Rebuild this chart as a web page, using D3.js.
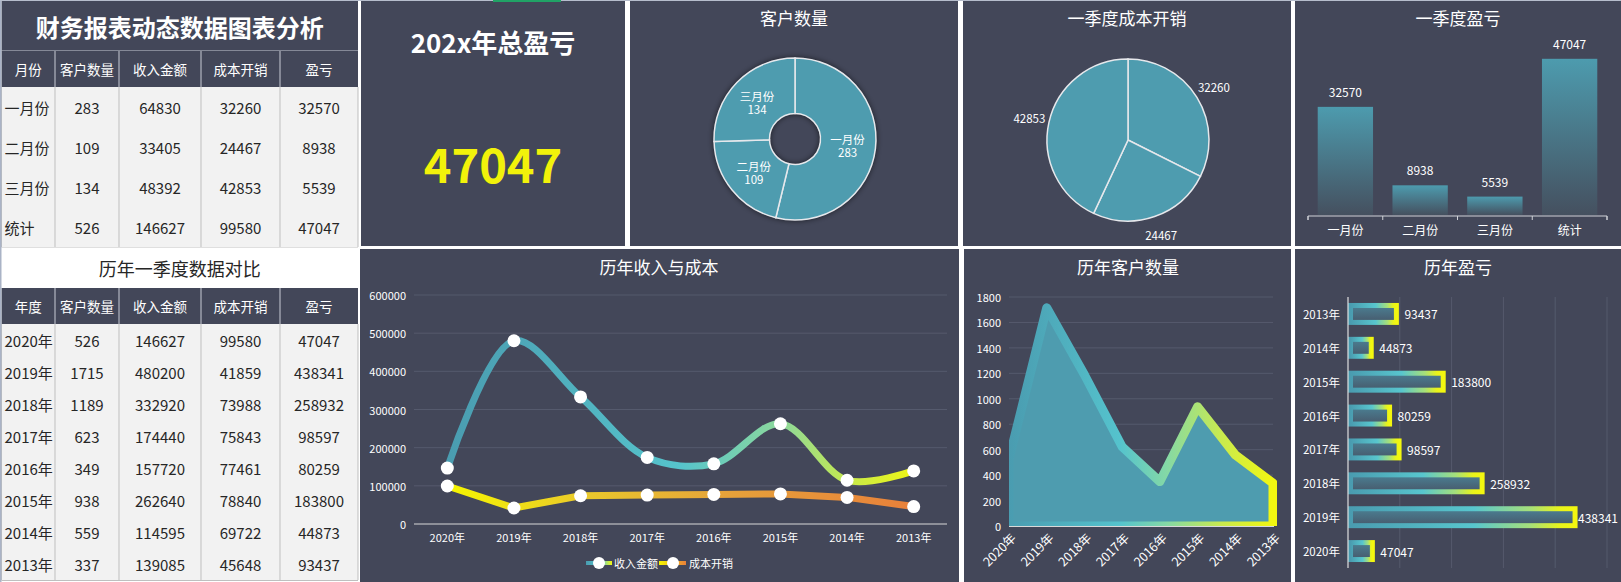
<!DOCTYPE html>
<html><head><meta charset="utf-8">
<script src="https://cdn.jsdelivr.net/npm/d3@7/dist/d3.min.js"></script>
<style>
html,body{margin:0;padding:0;background:#fff;}
svg{display:block;font-family:"Noto Sans CJK SC","Noto Sans",sans-serif;}
</style></head><body>
<svg id="c" width="1621" height="582"></svg>
<script>
// ---------- data ----------
const months = ['一月份','二月份','三月份'];
const totalLabel = '统计';
const monthCustomers = [283,109,134];
const monthRevenue = [64830,33405,48392];
const monthCost = [32260,24467,42853];
const monthProfit = [32570,8938,5539];

const years = ['2020年','2019年','2018年','2017年','2016年','2015年','2014年','2013年'];
const yearCustomers = [526,1715,1189,623,349,938,559,337];
const yearRevenue = [146627,480200,332920,174440,157720,262640,114595,139085];
const yearCost = [99580,41859,73988,75843,77461,78840,69722,45648];
const yearProfit = [47047,438341,258932,98597,80259,183800,44873,93437];

const headersMonth = ['月份','客户数量','收入金额','成本开销','盈亏'];
const headersYear = ['年度','客户数量','收入金额','成本开销','盈亏'];
const lineTicks = [0,100000,200000,300000,400000,500000,600000];
const areaTicks = [0,200,400,600,800,1000,1200,1400,1600,1800];
const profitTicks = [0,100000,200000,300000,400000,500000];

const mainTitle = '财务报表动态数据图表分析';
const compareTitle = '历年一季度数据对比';
const kpiTitle = '202x年总盈亏';

// ---------- setup ----------
const DARK = '#434759';
const svg = d3.select('#c');
const defs = svg.append('defs');
svg.append('rect').attr('width',1621).attr('height',582).attr('fill','#ffffff');

function linGrad(id, stops, x1, x2, y1, y2, units){
  const g = defs.append('linearGradient').attr('id', id)
    .attr('x1', x1).attr('x2', x2).attr('y1', y1).attr('y2', y2);
  if (units) g.attr('gradientUnits', units);
  stops.forEach(s => g.append('stop').attr('offset', s[0]).attr('stop-color', s[1]));
}
const tealYellow = [[0,'#4a9cb0'],[0.5,'#56c4cc'],[0.72,'#8ed99a'],[0.86,'#c6e94c'],[1,'#f0f614']];

// ---------- tables ----------
const colX = [1.5, 55, 119, 201, 280, 358];
const tot = [totalLabel, d3.sum(monthCustomers), d3.sum(monthRevenue), d3.sum(monthCost), d3.sum(monthProfit)];
const monthRows = months.map((m,i)=>[m, monthCustomers[i], monthRevenue[i], monthCost[i], monthProfit[i]]).concat([tot]);
const yearRows = years.map((y,i)=>[y, yearCustomers[i], yearRevenue[i], yearCost[i], yearProfit[i]]);

const tbl = svg.append('g');
function drawTable(top, headerH, rowH, headers, rows){
  tbl.append('rect').attr('x',colX[0]).attr('y',top).attr('width',colX[5]-colX[0]).attr('height',headerH).attr('fill',DARK);
  headers.forEach((h,j)=>{
    tbl.append('text').attr('x',(colX[j]+colX[j+1])/2).attr('y',top+headerH/2)
      .attr('text-anchor','middle').attr('dominant-baseline','central')
      .attr('fill','#ffffff').attr('font-size',13.5).text(h);
    if (j>0) tbl.append('line').attr('x1',colX[j]).attr('x2',colX[j]).attr('y1',top).attr('y2',top+headerH).attr('stroke','#c9ccd6').attr('stroke-width',1);
  });
  rows.forEach((r,i)=>{
    const y0 = top + headerH + i*rowH;
    tbl.append('rect').attr('x',colX[0]).attr('y',y0).attr('width',colX[5]-colX[0]).attr('height',rowH).attr('fill','#f2f2f2');
    r.forEach((v,j)=>{
      tbl.append('text')
        .attr('x', j===0 ? colX[0]+3 : (colX[j]+colX[j+1])/2)
        .attr('y', y0+rowH/2)
        .attr('text-anchor', j===0 ? 'start' : 'middle')
        .attr('dominant-baseline','central')
        .attr('fill','#262626').attr('font-size',15).text(v);
    });
    tbl.append('line').attr('x1',colX[0]).attr('x2',colX[5]).attr('y1',y0+rowH+0.5).attr('y2',y0+rowH+0.5).attr('stroke','#bfbfbf');
    colX.forEach(cx=>{
      tbl.append('line').attr('x1',cx).attr('x2',cx).attr('y1',y0).attr('y2',y0+rowH).attr('stroke','#bfbfbf');
    });
  });
}
tbl.append('rect').attr('x',colX[0]).attr('y',0).attr('width',colX[5]-colX[0]).attr('height',51).attr('fill',DARK);
tbl.append('text').attr('x',(colX[0]+colX[5])/2).attr('y',26).attr('text-anchor','middle').attr('dominant-baseline','central')
  .attr('fill','#ffffff').attr('font-size',24).attr('font-weight','bold').text(mainTitle);
tbl.append('line').attr('x1',colX[0]).attr('x2',colX[5]).attr('y1',51).attr('y2',51).attr('stroke','#c9ccd6');
drawTable(51, 36, 40, headersMonth, monthRows);
tbl.append('rect').attr('x',colX[0]).attr('y',247.5).attr('width',colX[5]-colX[0]).attr('height',40.5).attr('fill','#ffffff');
tbl.append('text').attr('x',(colX[0]+colX[5])/2).attr('y',268).attr('text-anchor','middle').attr('dominant-baseline','central')
  .attr('fill','#262626').attr('font-size',18).text(compareTitle);
drawTable(288, 36, 32, headersYear, yearRows);
tbl.append('line').attr('x1',0.75).attr('x2',0.75).attr('y1',0).attr('y2',582).attr('stroke','#aab3c6').attr('stroke-width',1.5);

// ---------- panels ----------
const panels = [
  [361,0,264,246],[630,0,328,246],[963,0,328,246],[1295,0,326,246],
  [360,249,599,333],[964,249,327,333],[1295,249,326,333]
];
svg.selectAll('rect.panel').data(panels).enter().append('rect').attr('class','panel')
  .attr('x',d=>d[0]).attr('y',d=>d[1]).attr('width',d=>d[2]).attr('height',d=>d[3]).attr('fill',DARK);
svg.append('line').attr('x1',0).attr('x2',1621).attr('y1',0.5).attr('y2',0.5).attr('stroke','#b6bdcc');
svg.append('line').attr('x1',493).attr('x2',561).attr('y1',1).attr('y2',1).attr('stroke','#21a366').attr('stroke-width',2);

function title(x,y,t){
  svg.append('text').attr('x',x).attr('y',y).attr('text-anchor','middle').attr('fill','#ffffff')
    .attr('font-size',17).text(t);
}

// ---------- KPI ----------
svg.append('text').attr('x',493).attr('y',53).attr('text-anchor','middle').attr('fill','#ffffff')
  .attr('font-size',26).attr('font-weight','bold').text(kpiTitle);
svg.append('text').attr('x',493).attr('y',183).attr('text-anchor','middle').attr('fill','#f2f20a')
  .attr('font-size',47).attr('font-weight','bold').text(d3.sum(monthProfit));

// ---------- donut 客户数量 ----------
title(794,25,'客户数量');
const shadow = defs.append('filter').attr('id','sh').attr('x','-30%').attr('y','-30%').attr('width','160%').attr('height','160%');
shadow.append('feDropShadow').attr('dx',0).attr('dy',0).attr('stdDeviation',3).attr('flood-color','#000').attr('flood-opacity',0.7);
const pie = d3.pie().sort(null).value(d=>d);
const dg = svg.append('g').attr('transform','translate(795,139)');
const donutArc = d3.arc().innerRadius(25.5).outerRadius(81);
const donutLab = d3.arc().innerRadius(53).outerRadius(53);
const dArcs = pie(monthCustomers);
dg.append('g').attr('filter','url(#sh)').selectAll('path').data(dArcs).enter().append('path')
  .attr('d',donutArc).attr('fill','#4e9caf');
dg.selectAll('path.s').data(dArcs).enter().append('path').attr('class','s')
  .attr('d',donutArc).attr('fill','#4e9caf').attr('stroke','#e6e8ec').attr('stroke-width',1.5);
dArcs.forEach((a,i)=>{
  const c = donutLab.centroid(a);
  dg.append('text').attr('x',c[0]).attr('y',c[1]-6.5).attr('text-anchor','middle').attr('dominant-baseline','central')
    .attr('fill','#ffffff').attr('font-size',11.5).text(months[i]);
  dg.append('text').attr('x',c[0]).attr('y',c[1]+7).attr('text-anchor','middle').attr('dominant-baseline','central')
    .attr('fill','#ffffff').attr('font-size',11.5).text(monthCustomers[i]);
});

// ---------- pie 一季度成本开销 ----------
title(1127,25,'一季度成本开销');
const pg = svg.append('g').attr('transform','translate(1128,140)');
const pieArc = d3.arc().innerRadius(0).outerRadius(81);
const pieLab = d3.arc().innerRadius(101).outerRadius(101);
const pArcs = pie(monthCost);
pg.selectAll('path').data(pArcs).enter().append('path')
  .attr('d',pieArc).attr('fill','#4e9caf').attr('stroke','#e6e8ec').attr('stroke-width',1.5);
pArcs.forEach((a,i)=>{
  const c = pieLab.centroid(a);
  pg.append('text').attr('x',c[0]).attr('y',c[1]).attr('text-anchor','middle').attr('dominant-baseline','central')
    .attr('fill','#ffffff').attr('font-size',11.5).text(monthCost[i]);
});

// ---------- bar 一季度盈亏 ----------
title(1458,25,'一季度盈亏');
linGrad('barG', [[0,'#4d9bae'],[1,'#45505f']], 0,0,0,1);
const qCats = months.concat([totalLabel]);
const qVals = monthProfit.concat([d3.sum(monthProfit)]);
const bx = d3.scaleBand().domain(qCats).range([1308,1607]).paddingInner(0.26).paddingOuter(0.13);
const by = d3.scaleLinear().domain([0,50000]).range([215,49]);
const bg = svg.append('g');
bg.selectAll('rect').data(qVals).enter().append('rect')
  .attr('x',(d,i)=>bx(qCats[i])).attr('width',bx.bandwidth())
  .attr('y',d=>by(d)).attr('height',d=>by(0)-by(d)).attr('fill','url(#barG)');
bg.selectAll('text.v').data(qVals).enter().append('text').attr('class','v')
  .attr('x',(d,i)=>bx(qCats[i])+bx.bandwidth()/2).attr('y',d=>by(d)-10)
  .attr('text-anchor','middle').attr('fill','#ffffff').attr('font-size',12).text(d=>d);
const bAxis = d3.axisBottom(bx).tickSize(0).tickPadding(10);
const bAx = bg.append('g').attr('transform','translate(0,216)').call(bAxis);
bAx.select('.domain').attr('stroke','#d0d2d8').attr('d','M1308,4V0H1607V4');
bAx.selectAll('text').attr('fill','#ffffff').attr('font-size',12).attr('font-family','"Noto Sans CJK SC",sans-serif');
d3.range(qCats.length+1).forEach(i=>{
  const xx = 1308 + i*(299/qCats.length);
  bAx.append('line').attr('x1',xx).attr('x2',xx).attr('y1',0).attr('y2',4).attr('stroke','#d0d2d8');
});

// ---------- line 历年收入与成本 ----------
title(659,274,'历年收入与成本');
const lx = d3.scalePoint().domain(years).range([414,947]).padding(0.5);
const ly = d3.scaleLinear().domain([0,600000]).range([524,295]);
const lg = svg.append('g');
lineTicks.forEach(t=>{
  if (t>0) lg.append('line').attr('x1',414).attr('x2',947).attr('y1',ly(t)).attr('y2',ly(t)).attr('stroke','#555a6d').attr('stroke-width',1);
  lg.append('text').attr('x',406).attr('y',ly(t)).attr('text-anchor','end').attr('dominant-baseline','central')
    .attr('fill','#ffffff').attr('font-size',11).text(t);
});
lg.append('line').attr('x1',414).attr('x2',947).attr('y1',ly(0)).attr('y2',ly(0)).attr('stroke','#d9d9d9').attr('stroke-width',1);
years.forEach(y=>{
  lg.append('text').attr('x',lx(y)).attr('y',537).attr('text-anchor','middle').attr('dominant-baseline','central')
    .attr('fill','#ffffff').attr('font-size',11).text(y);
});
linGrad('revG', tealYellow, lx(years[0]), lx(years[7]), 0, 0, 'userSpaceOnUse');
linGrad('costG', [[0,'#f6f600'],[0.3,'#e9c82c'],[0.6,'#e6a23a'],[1,'#e8803a']], lx(years[0]), lx(years[7]), 0, 0, 'userSpaceOnUse');
const lineGen = d3.line().x((d,i)=>lx(years[i])).y(d=>ly(d)).curve(d3.curveCatmullRom.alpha(0.5));
const costGen = d3.line().x((d,i)=>lx(years[i])).y(d=>ly(d));
lg.append('path').attr('d',costGen(yearCost)).attr('fill','none').attr('stroke','url(#costG)').attr('stroke-width',7).attr('stroke-linejoin','round');
lg.append('path').attr('d',lineGen(yearRevenue)).attr('fill','none').attr('stroke','url(#revG)').attr('stroke-width',7).attr('stroke-linecap','round');
[yearRevenue, yearCost].forEach(s=>{
  lg.selectAll(null).data(s).enter().append('circle').attr('cx',(d,i)=>lx(years[i])).attr('cy',d=>ly(d)).attr('r',6.5).attr('fill','#ffffff');
});
linGrad('legR', tealYellow, 0,1,0,0);
linGrad('legC', [[0,'#f6f600'],[1,'#e8803a']], 0,1,0,0);
lg.append('rect').attr('x',586).attr('y',561).attr('width',26).attr('height',4).attr('fill','url(#legR)');
lg.append('circle').attr('cx',599).attr('cy',563).attr('r',6).attr('fill','#fff');
lg.append('text').attr('x',614).attr('y',563).attr('dominant-baseline','central').attr('fill','#fff').attr('font-size',11).text('收入金额');
lg.append('rect').attr('x',659).attr('y',561).attr('width',27).attr('height',4).attr('fill','url(#legC)');
lg.append('circle').attr('cx',673).attr('cy',563).attr('r',6).attr('fill','#fff');
lg.append('text').attr('x',689).attr('y',563).attr('dominant-baseline','central').attr('fill','#fff').attr('font-size',11).text('成本开销');

// ---------- area 历年客户数量 ----------
title(1128,274,'历年客户数量');
const ax = d3.scalePoint().domain(years).range([1009,1273]).padding(0);
const ay = d3.scaleLinear().domain([0,1800]).range([526,297]);
const ag = svg.append('g');
areaTicks.forEach(t=>{
  if (t>0) ag.append('line').attr('x1',1009).attr('x2',1273).attr('y1',ay(t)).attr('y2',ay(t)).attr('stroke','#555a6d');
  ag.append('text').attr('x',1001).attr('y',ay(t)).attr('text-anchor','end').attr('dominant-baseline','central')
    .attr('fill','#ffffff').attr('font-size',11).text(t);
});
linGrad('areaG', [[0,'#4a9cb0'],[0.42,'#55c3cd'],[0.6,'#85d9a5'],[0.8,'#c8ea50'],[1,'#f2f710']], 1009, 1273, 0, 0, 'userSpaceOnUse');
defs.append('clipPath').attr('id','aclip').append('rect').attr('x',1009).attr('y',280).attr('width',268).attr('height',246);
const areaGen = d3.area().x((d,i)=>ax(years[i])).y0(ay(0)).y1(d=>ay(d));
ag.append('path').attr('d',areaGen(yearCustomers)+'Z').attr('clip-path','url(#aclip)')
  .attr('fill','#4e9caf').attr('stroke','url(#areaG)').attr('stroke-width',9).attr('stroke-linejoin','round');
ag.append('line').attr('x1',1009).attr('x2',1274).attr('y1',526.5).attr('y2',526.5).attr('stroke','#d9d9d9');
years.forEach(y=>{
  ag.append('text').attr('transform',`translate(${ax(y)+4},535) rotate(-45)`).attr('text-anchor','end')
    .attr('dominant-baseline','central').attr('fill','#ffffff').attr('font-size',12.5).text(y);
});

// ---------- horizontal bars 历年盈亏 ----------
title(1458,274,'历年盈亏');
const hx = d3.scaleLinear().domain([0,500000]).range([1348,1607]);
const hyOrder = years.slice().reverse();
const hy = d3.scaleBand().domain(hyOrder).range([297,568]).paddingInner(0.5).paddingOuter(0.25);
const hg = svg.append('g');
profitTicks.forEach(t=>{
  if (t>0) hg.append('line').attr('x1',hx(t)).attr('x2',hx(t)).attr('y1',297).attr('y2',568).attr('stroke','#555a6d');
});
linGrad('hFill', [[0,'#4b8094'],[1,'#47596b']], 0,0,0,1);
linGrad('hStroke', [[0,'#4a9cb0'],[0.55,'#58c6ce'],[0.8,'#a6e07a'],[0.93,'#e8f31c'],[1,'#f3f70f']], 0,1,0,0);
years.forEach((y,i)=>{
  const v = yearProfit[i];
  const x0 = hx(0)+2.5;
  hg.append('rect').attr('x',x0).attr('y',hy(y)).attr('width',hx(v)-x0).attr('height',hy.bandwidth())
    .attr('fill','url(#hFill)').attr('stroke','url(#hStroke)').attr('stroke-width',5);
  const lab = hg.append('text').attr('x',hx(v)+8).attr('y',hy(y)+hy.bandwidth()/2).attr('dominant-baseline','central')
    .attr('fill','#ffffff').attr('font-size',12).text(v);
  const w = lab.node().getComputedTextLength();
  if (hx(v)+8+w > 1618) lab.attr('x', 1618 - w);
  hg.append('text').attr('x',1340).attr('y',hy(y)+hy.bandwidth()/2).attr('text-anchor','end').attr('dominant-baseline','central')
    .attr('fill','#ffffff').attr('font-size',11.5).text(y);
});
hg.append('line').attr('x1',1348).attr('x2',1348).attr('y1',297).attr('y2',568).attr('stroke','#e0e0e0').attr('stroke-width',1.2);
</script>
</body></html>
